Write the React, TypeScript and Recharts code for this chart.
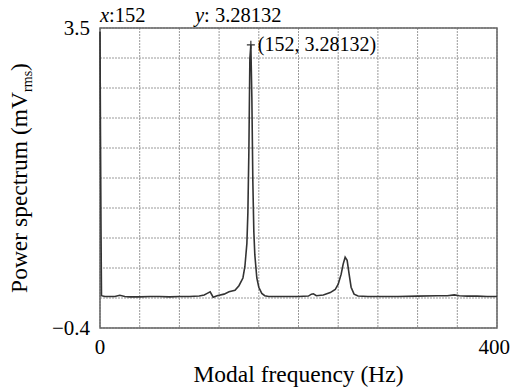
import {
	LineChart,
	Line,
	XAxis,
	YAxis,
	CartesianGrid,
	ReferenceArea,
	ReferenceDot,
} from "recharts";

const frequency = [
	0, 0.5, 1, 1.5, 5, 10, 15, 20, 25, 30, 40, 50, 60, 70, 80, 90, 100, 105,
	108, 111, 114, 118, 125, 130, 133, 136, 140, 144, 146, 148, 149, 150, 151,
	152, 153, 154, 155, 156, 158, 160, 163, 166, 170, 180, 190, 200, 210, 213,
	215, 218, 225, 232, 237, 240, 243, 245, 247, 249, 251, 253, 256, 260, 270,
	280, 290, 300, 320, 340, 350, 357, 362, 370, 380, 390, 400,
];

const power = [
	3.45, 2.1, 0.9, 0.02, 0.01, 0.01, 0.01, 0.025, 0.01, 0.005, 0.005, 0.01,
	0.01, 0.005, 0.01, 0.01, 0.015, 0.03, 0.05, 0.07, 0.0, 0.02, 0.04, 0.07,
	0.08, 0.09, 0.15, 0.25, 0.4, 0.7, 1.1, 1.9, 3.1, 3.28132, 2.6, 1.5, 0.85,
	0.55, 0.25, 0.13, 0.05, 0.02, 0.01, 0.01, 0.01, 0.01, 0.015, 0.04, 0.045,
	0.02, 0.03, 0.06, 0.1, 0.17, 0.3, 0.43, 0.52, 0.48, 0.3, 0.13, 0.04, 0.015,
	0.01, 0.01, 0.01, 0.01, 0.015, 0.02, 0.02, 0.03, 0.02, 0.015, 0.015, 0.01,
	0.01,
];

const xTicks = [0, 40, 80, 120, 160, 200, 240, 280, 320, 360, 400];
const yTicks = [-0.4, -0.01, 0.38, 0.77, 1.16, 1.55, 1.94, 2.33, 2.72, 3.11, 3.5];
const xTickLabels = ["0", "", "", "", "", "", "", "", "", "", "400"];
const yTickLabels = ["\u22120.4", "", "", "", "", "", "", "", "", "", "3.5"];

const peak = { x: 152, y: 3.28132 };

const data = frequency.map((f, i) => ({ f, p: power[i] }));

const FONT = "Liberation Serif";

export default function App() {
	return (
		<div style={{ position: "absolute", left: 0, top: 0, background: "#fff" }}>
			<LineChart
				width={510}
				height={389}
				data={data}
				margin={{ top: 28, right: 13, left: 40, bottom: 21 }}>
				<CartesianGrid
					stroke="#9a9a9a"
					strokeDasharray="2 1"
					strokeWidth={1}
				/>
				<XAxis
					dataKey="f"
					type="number"
					domain={[0, 400]}
					ticks={xTicks}
					tickFormatter={(_v: number, i: number) => xTickLabels[i]}
					tickLine={false}
					axisLine={false}
					tickSize={0}
					tickMargin={11}
					height={40}
					fontFamily={FONT}
					tick={{ fontSize: 21, fill: "#000", fontFamily: FONT }}
					label={{
						content: ({ viewBox }: any) => (
							<text
								x={viewBox.x + viewBox.width / 2}
								y={viewBox.y + 54}
								textAnchor="middle"
								fontSize={23.5}
								fontFamily={FONT}
								fill="#000">
								Modal frequency (Hz)
							</text>
						),
					}}
				/>
				<YAxis
					type="number"
					domain={[-0.4, 3.5]}
					ticks={yTicks}
					tickFormatter={(_v: number, i: number) => yTickLabels[i]}
					tickLine={false}
					axisLine={false}
					tickSize={0}
					tickMargin={10}
					width={60}
					allowDataOverflow
					fontFamily={FONT}
					tick={{ fontSize: 21, fill: "#000", fontFamily: FONT }}
					label={{
						content: ({ viewBox }: any) => {
							const cx = viewBox.x - 13;
							const cy = viewBox.y + viewBox.height / 2;
							return (
								<text
									x={cx}
									y={cy}
									transform={`rotate(-90, ${cx}, ${cy})`}
									textAnchor="middle"
									fontSize={23.5}
									fontFamily={FONT}
									fill="#000">
									Power spectrum (mV
									<tspan fontSize={14} dy={5}>
										rms
									</tspan>
									<tspan dy={-5}>)</tspan>
								</text>
							);
						},
					}}
				/>
				<ReferenceArea
					x1={0}
					x2={400}
					y1={-0.4}
					y2={3.5}
					fill="none"
					stroke="#666"
					strokeWidth={1.5}
					fillOpacity={0}
				/>
				<Line
					type="linear"
					dataKey="p"
					stroke="#333"
					strokeWidth={1.6}
					dot={false}
					isAnimationActive={false}
				/>
				<ReferenceDot
					x={peak.x}
					y={peak.y}
					r={4}
					ifOverflow="visible"
					shape={(props: any) => (
						<g>
							<path
								d={`M${props.cx - 4},${props.cy}H${props.cx + 4}M${props.cx},${props.cy - 4}V${props.cy + 4}`}
								stroke="#333"
								strokeWidth={1.2}
							/>
							<text
								x={props.cx + 7}
								y={props.cy + 6}
								fontSize={20}
								fontFamily={FONT}
								fill="#000">
								({peak.x}, {peak.y})
							</text>
						</g>
					)}
				/>
				<ReferenceDot
					x={0}
					y={3.5}
					r={1}
					ifOverflow="visible"
					shape={(props: any) => (
						<g>
							<text
								x={props.cx}
								y={props.cy - 6}
								fontSize={20.5}
								fontFamily={FONT}
								fill="#000">
								<tspan fontStyle="italic">x</tspan>:{peak.x}
							</text>
							<text
								x={props.cx + 95}
								y={props.cy - 6}
								fontSize={20.5}
								fontFamily={FONT}
								fill="#000">
								<tspan fontStyle="italic">y</tspan>: {peak.y}
							</text>
						</g>
					)}
				/>
			</LineChart>
		</div>
	);
}
